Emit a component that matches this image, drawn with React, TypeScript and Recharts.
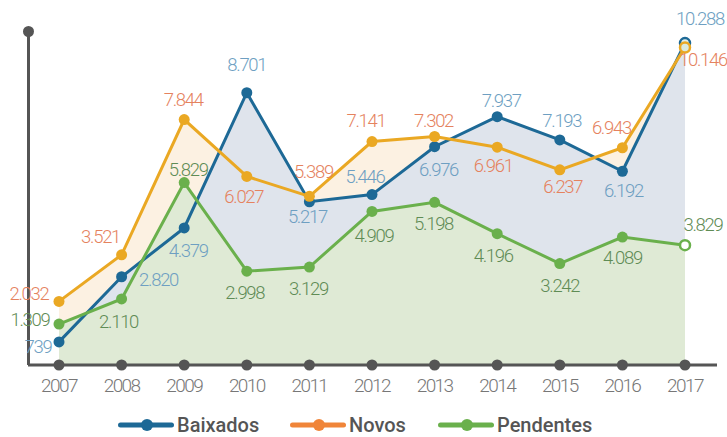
import React from 'react';
import { ComposedChart, Area, Line, XAxis, YAxis, LabelList } from 'recharts';

const years = ['2007', '2008', '2009', '2010', '2011', '2012', '2013', '2014', '2015', '2016', '2017'];
const baixados = [739, 2820, 4379, 8701, 5217, 5446, 6976, 7937, 7193, 6192, 10288];
const novos = [2032, 3521, 7844, 6027, 5389, 7141, 7302, 6961, 6237, 6943, 10146];
const pendentes = [1309, 2110, 5829, 2998, 3129, 4909, 5198, 4196, 3242, 4089, 3829];

const data = years.map((year, i) => ({
  year,
  baixados: baixados[i],
  novos: novos[i],
  pendentes: pendentes[i],
}));

// where each value label sits relative to its point [dx, dy]
const baixadosLabelPos = [[-21, 5], [37, 3], [4, 23], [0, -28], [-2, 15], [-7, -18], [4, 23], [4, -16], [2, -19], [1, 20], [15, -24]];
const novosLabelPos = [[-30, -7], [-21, -18], [-1, -20], [-3, 21], [4, -24], [-6, -21], [-1, -16], [-4, 19], [3, 17], [-11, -20], [18, 12]];
const pendentesLabelPos = [[-29, -4], [-3, 23], [4, -13], [-2, 22], [-1, 22], [2, 25], [-1, 22], [-4, 22], [0, 22], [0, 21], [18, -20]];

const series = [
  { key: 'baixados', name: 'Baixados', line: '#1d6996', fill: '#dfe4ec', label: '#6e9fc2', legend: '#1d6996', pos: baixadosLabelPos, ring: '#e4eee8' },
  { key: 'novos', name: 'Novos', line: '#eaa823', fill: '#fcf1e2', label: '#e5825e', legend: '#f08539', pos: novosLabelPos, ring: '#dceadf' },
  { key: 'pendentes', name: 'Pendentes', line: '#6ab04c', fill: '#dfead5', label: '#5f8c55', legend: '#6ab04c', pos: pendentesLabelPos, ring: '#ffffff' },
];

const fmt = (v: number) => String(v).replace(/\B(?=(\d{3})+(?!\d))/g, '.');

const makeDot = (color: string, ring: string) => (props: any) => {
  const { cx, cy, index } = props;
  if (index === years.length - 1) {
    return <circle key={`d${index}`} cx={cx} cy={cy} r={5} fill={ring} stroke={color} strokeWidth={2.5} />;
  }
  return <circle key={`d${index}`} cx={cx} cy={cy} r={5.5} fill={color} stroke="none" />;
};

const makeLabel = (color: string, pos: number[][]) => (props: any) => {
  const { x, y, value, index } = props;
  const [dx, dy] = pos[index] || [0, -18];
  return (
    <text
      x={x + dx}
      y={y + dy}
      textAnchor="middle"
      dominantBaseline="central"
      fill={color}
      fontFamily="Roboto"
      fontWeight={300}
      fontSize={18.5}
      letterSpacing={-1.3}
    >
      {fmt(value)}
    </text>
  );
};

const YearTick = (props: any) => {
  const { x, y, payload } = props;
  return (
    <g>
      <circle cx={x} cy={y} r={5.5} fill="#555" />
      <text
        x={x}
        y={y + 27}
        textAnchor="middle"
        fill="#777"
        fontFamily="Roboto"
        fontWeight={300}
        fontSize={19}
        letterSpacing={-1.6}
      >
        {payload.value}
      </text>
    </g>
  );
};

const fillOrder = ['novos', 'baixados', 'pendentes'];

export default function App() {
  return (
    <div style={{ position: 'absolute', left: 0, top: 0, width: 727, height: 437, background: '#fff' }}>
      {/* y axis line with its end dot, kept behind the chart so labels sit on top */}
      <div style={{ position: 'absolute', left: 26.5, top: 31, width: 3, height: 334, background: '#555' }} />
      <div style={{ position: 'absolute', left: 22.5, top: 26, width: 11, height: 11, borderRadius: '50%', background: '#555' }} />
      <div style={{ position: 'absolute', left: 0, top: 0 }}>
        <ComposedChart width={727} height={437} data={data} margin={{ top: 31, right: 10, bottom: 42, left: 28 }}>
          <XAxis
            dataKey="year"
            padding={{ left: 31, right: 32 }}
            axisLine={{ stroke: '#555', strokeWidth: 3 }}
            tickLine={false}
            tickSize={0}
            tickMargin={0}
            height={30}
            interval={0}
            tick={<YearTick />}
          />
          <YAxis hide domain={[0, 10674]} />
          {fillOrder.map((k) => {
            const s = series.find((x) => x.key === k)!;
            return (
              <Area
                key={`a-${k}`}
                type="linear"
                dataKey={k}
                stroke="none"
                fill={s.fill}
                fillOpacity={1}
                dot={false}
                activeDot={false}
                isAnimationActive={false}
              />
            );
          })}
          {series.map((s) => (
            <Line
              key={`l-${s.key}`}
              type="linear"
              dataKey={s.key}
              stroke={s.line}
              strokeWidth={3}
              dot={makeDot(s.line, s.ring)}
              activeDot={false}
              isAnimationActive={false}
            >
              <LabelList dataKey={s.key} content={makeLabel(s.label, s.pos)} />
            </Line>
          ))}
        </ComposedChart>
      </div>
      <div style={{ position: 'absolute', left: 0, top: 414, width: 727, height: 22 }}>
        {series.map((s, i) => {
          const starts = [118, 290, 438];
          return (
            <div
              key={s.key}
              style={{ position: 'absolute', left: starts[i], top: 0, display: 'flex', alignItems: 'center', height: 22, whiteSpace: 'nowrap' }}
            >
              <svg width={56} height={14} style={{ display: 'block', flex: 'none' }}>
                <line x1={2.5} y1={7} x2={53.5} y2={7} stroke={s.legend} strokeWidth={5} strokeLinecap="round" />
                <circle cx={29} cy={7} r={6} fill={s.legend} />
              </svg>
              <span style={{ marginLeft: 3, fontFamily: 'Roboto', fontWeight: 500, fontSize: 20, lineHeight: '22px', color: '#555' }}>{s.name}</span>
            </div>
          );
        })}
      </div>
    </div>
  );
}
